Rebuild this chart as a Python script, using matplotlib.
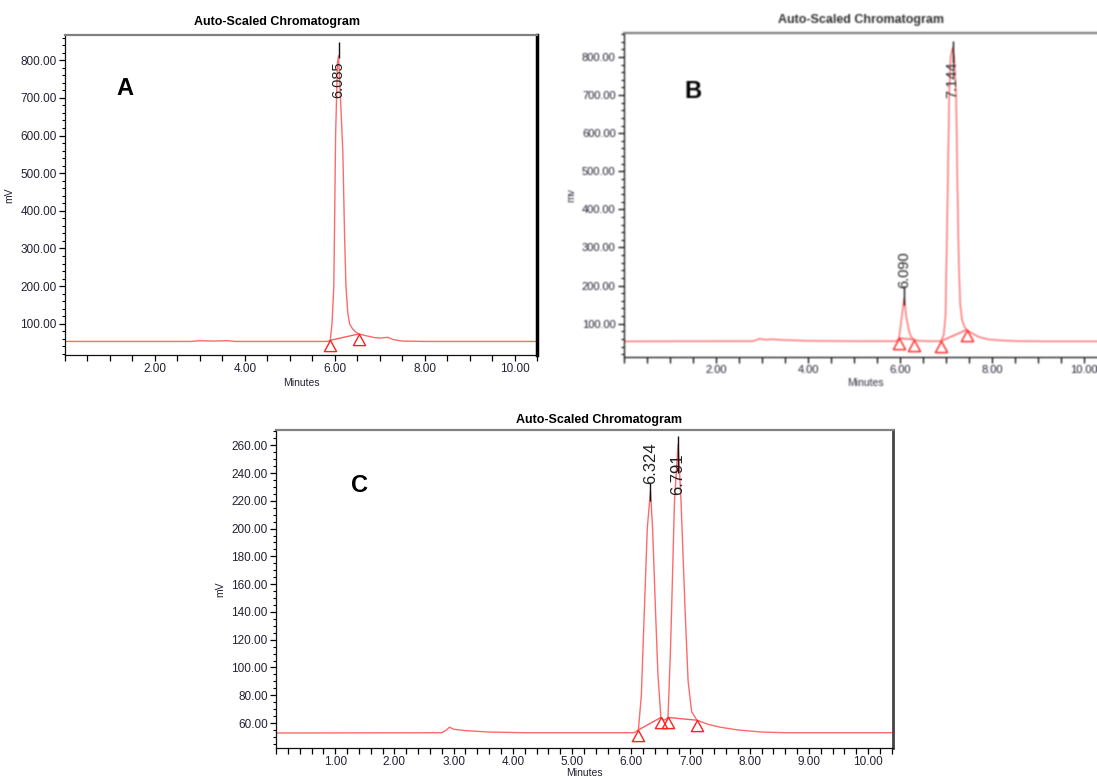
import matplotlib
matplotlib.use("Agg")
import numpy as np
import matplotlib.pyplot as plt
from matplotlib.ticker import FixedLocator, MultipleLocator, FormatStrFormatter
from matplotlib.path import Path

plt.rcParams['font.family'] = ['Liberation Sans', 'DejaVu Sans']

# ---------------- data ----------------
# Run A: single peak
a_time = [0.0, 2.80, 3.00, 3.30, 3.60, 3.80, 5.85, 5.90, 5.94, 5.98, 6.02, 6.06, 6.085,
          6.12, 6.18, 6.22, 6.25, 6.29, 6.33, 6.40, 6.47, 6.54, 6.70, 6.90, 7.00, 7.10,
          7.18, 7.30, 7.50, 8.00, 10.6]
a_mv = [53, 53, 55, 54, 55, 53, 53, 56, 100, 200, 600, 790, 812,
        720, 560, 330, 200, 130, 100, 86, 78, 73, 68, 63, 62, 63,
        64, 58, 54, 53, 53]
a_peak_rt = [6.085]
a_peak_label = ["6.085"]
a_peak_top = [812]
a_marks = [(5.90, 56), (6.54, 73)]

# Run B: minor + major peak
b_time = [0.0, 2.80, 2.90, 2.95, 3.00, 3.10, 3.20, 3.50, 4.00, 5.00, 5.93, 5.98, 6.03,
          6.09, 6.14, 6.20, 6.25, 6.31, 6.40, 6.60, 6.89, 6.95, 6.99, 7.03, 7.07, 7.10,
          7.144, 7.18, 7.22, 7.25, 7.28, 7.31, 7.35, 7.40, 7.45, 7.55, 7.70, 7.90, 8.20,
          8.60, 9.20, 10.6]
b_mv = [53.5, 54, 58, 61, 59, 58, 59, 57, 55, 54, 54, 62, 110,
        167, 115, 78, 64, 58, 55, 54, 54, 70, 120, 400, 700, 800,
        824, 800, 700, 450, 250, 150, 110, 92, 84, 76, 66, 59, 56,
        54, 53.5, 53.5]
b_peak_rt = [6.090, 7.144]
b_peak_label = ["6.090", "7.144"]
b_peak_top = [167, 824]
b_marks = [(5.98, 62), (6.31, 58), (6.89, 54), (7.45, 84)]

# Run C: two resolved peaks
c_time = [0.0, 2.80, 2.88, 2.93, 3.00, 3.20, 3.60, 4.20, 6.05, 6.12, 6.17, 6.22, 6.27,
          6.324, 6.36, 6.41, 6.45, 6.50, 6.56, 6.62, 6.66, 6.68, 6.73, 6.791, 6.84, 6.91,
          6.96, 7.02, 7.11, 7.30, 7.50, 7.80, 8.20, 8.60, 10.5]
c_mv = [52.8, 53, 55, 57, 55.5, 54.5, 53.5, 53, 53, 55, 80, 140, 200,
        227, 200, 140, 95, 64, 62, 64, 110, 140, 220, 261, 220, 140,
        90, 68, 62, 59, 57, 55, 53.5, 53, 53]
c_peak_rt = [6.324, 6.791]
c_peak_label = ["6.324", "6.791"]
c_peak_top = [227, 261]
c_marks = [(6.12, 55), (6.50, 64), (6.62, 64), (7.11, 62)]

# ---------------- styling helpers ----------------
W, H = 1097, 778
TRACE = '#ff5a5a'
TRI = Path([(0, 0), (-0.55, -1), (0.55, -1), (0, 0)],
           [Path.MOVETO, Path.LINETO, Path.LINETO, Path.CLOSEPOLY])


def px_axes(fig, l, t, r, b):
    return fig.add_axes([l / W, 1 - b / H, (r - l) / W, (b - t) / H])


def style(ax, xlim, ylim, xmaj, xmin, ymaj, ymin, tick_fs, right_spine):
    ax.set_xlim(*xlim)
    ax.set_ylim(*ylim)
    ax.xaxis.set_major_locator(FixedLocator(xmaj))
    ax.xaxis.set_minor_locator(MultipleLocator(xmin))
    ax.yaxis.set_major_locator(FixedLocator(ymaj))
    ax.yaxis.set_minor_locator(MultipleLocator(ymin))
    ax.xaxis.set_major_formatter(FormatStrFormatter('%.2f'))
    ax.yaxis.set_major_formatter(FormatStrFormatter('%.2f'))
    ax.tick_params(axis='both', which='major', direction='out', length=4.5, width=0.9,
                   labelsize=tick_fs, labelcolor='#222233', pad=1.5)
    ax.tick_params(axis='x', which='minor', direction='out', length=4.5, width=0.9)
    ax.tick_params(axis='y', which='minor', direction='out', length=2.5, width=0.8)
    for s in ('left', 'bottom'):
        ax.spines[s].set_linewidth(0.9)
        ax.spines[s].set_color('#111111')
    ax.spines['top'].set_color('#808080')
    ax.spines['top'].set_linewidth(1.6)
    if right_spine is None:
        ax.spines['right'].set_visible(False)
    else:
        ax.spines['right'].set_color(right_spine[0])
        ax.spines['right'].set_linewidth(right_spine[1])


def draw_run(ax, t, mv, rts, labels, tops, marks, line_tops, label_mid, label_fs):
    ax.plot(t, mv, color=TRACE, lw=1.0, alpha=0.9, solid_joinstyle='round')
    # integration baselines, drawn pairwise between start/end marks
    for i in range(0, len(marks), 2):
        (x0, y0), (x1, y1) = marks[i], marks[i + 1]
        ax.plot([x0, x1], [y0, y1], color=TRACE, lw=1.0)
    ax.plot([m[0] for m in marks], [m[1] for m in marks], linestyle='none',
            marker=TRI, markersize=16, markerfacecolor='none',
            markeredgecolor='#ff2020', markeredgewidth=1.0)
    for rt, lab, top, lt, lm in zip(rts, labels, tops, line_tops, label_mid):
        ax.vlines(rt, lt[0], lt[1], color='#111111', lw=1.0, zorder=3)
        ax.text(rt, lm, lab, rotation=90, ha='center', va='center',
                fontsize=label_fs, color='#222222', zorder=4)


fig = plt.figure(figsize=(W / 100, H / 100), dpi=100)
fig.patch.set_facecolor('white')

# ---- A ----
axA = px_axes(fig, 65, 35, 537, 355)
style(axA, (0, 10.5), (17, 867), [2, 4, 6, 8, 10], 0.5,
      list(range(100, 801, 100)), 20, 8.5, ('#000000', 2.5))
draw_run(axA, a_time, a_mv, a_peak_rt, a_peak_label, a_peak_top, a_marks,
         [(805, 848)], [748], 10.5)
axA.set_xlabel('Minutes', fontsize=7.5, color='#222233', labelpad=2)
axA.set_ylabel('mV', fontsize=7.5, color='#222233', labelpad=4)
axA.set_title('Auto-Scaled Chromatogram', fontsize=9, fontweight='bold',
              x=0.449, pad=7)
axA.text(0.127, 0.834, 'A', transform=axA.transAxes, fontsize=17,
         fontweight='bold', ha='center', va='center')

# ---- B ----
axB = px_axes(fig, 624, 33, 1107, 357)
style(axB, (0, 10.5), (12.5, 863), [2, 4, 6, 8, 10], 0.5,
      list(range(100, 801, 100)), 20, 8, None)
draw_run(axB, b_time, b_mv, b_peak_rt, b_peak_label, b_peak_top, b_marks,
         [(150, 198), (784, 841)], [243, 740], 10.5)
axB.set_xlabel('Minutes', fontsize=7.5, color='#333344', labelpad=2)
axB.set_ylabel('mv', fontsize=7.5, color='#333344', labelpad=4)
axB.set_title('Auto-Scaled Chromatogram', fontsize=9, fontweight='bold',
              x=0.49, pad=7, color='#333333')
axB.text(0.143, 0.818, 'B', transform=axB.transAxes, fontsize=17,
         fontweight='bold', ha='center', va='center')

# ---- C ----
axC = px_axes(fig, 276, 430, 893, 748)
style(axC, (0, 10.42), (42, 271), list(range(1, 11)), 0.2,
      list(range(60, 261, 20)), 5, 8.5, ('#444444', 2.0))
draw_run(axC, c_time, c_mv, c_peak_rt, c_peak_label, c_peak_top, c_marks,
         [(220, 233), (240, 267)], [247, 239], 12)
axC.set_xlabel('Minutes', fontsize=7.5, color='#222233', labelpad=0)
axC.set_ylabel('mV', fontsize=7.5, color='#222233', labelpad=4)
axC.set_title('Auto-Scaled Chromatogram', fontsize=9, fontweight='bold',
              x=0.523, pad=5)
axC.text(0.136, 0.824, 'C', transform=axC.transAxes, fontsize=17,
         fontweight='bold', ha='center', va='center')

# Render, then soften the scanned-looking B panel slightly before saving.
fig.canvas.draw()
img = np.asarray(fig.canvas.buffer_rgba())[:, :, :3].astype(float) / 255.0
k = np.array([0.25, 0.5, 0.25])
region = img[0:400, 560:W].copy()
pad = np.pad(region, ((1, 1), (1, 1), (0, 0)), mode='edge')
tmp = k[0] * pad[:, :-2] + k[1] * pad[:, 1:-1] + k[2] * pad[:, 2:]
region = k[0] * tmp[:-2] + k[1] * tmp[1:-1] + k[2] * tmp[2:]
img[0:400, 560:W] = region
plt.imsave('out.png', np.clip(img, 0, 1))
